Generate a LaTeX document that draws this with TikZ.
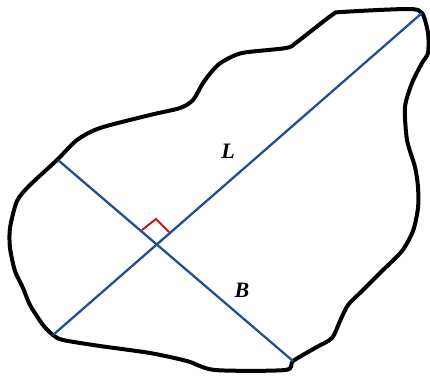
\documentclass[tikz,border=0pt]{standalone}
\usepackage{fontspec}
\setmainfont{Liberation Serif}
\begin{document}
\begin{tikzpicture}[x=1pt,y=-1pt,
  outline/.style={line width=4pt,black,line join=round,line cap=round},
  axisline/.style={line width=2.3pt,axisblue},
  rightmark/.style={line width=2pt,markred},
  lbl/.style={font=\fontsize{22}{24}\selectfont\bfseries\itshape,inner sep=0pt}]
\definecolor{axisblue}{RGB}{35,80,140}
\definecolor{markred}{RGB}{200,20,30}
\useasboundingbox (0,0) rectangle (430,376);
\draw[outline] plot[smooth cycle,tension=0.45] coordinates {
(30,185) (57,160) (77,140) (100,128) (150,115) (180,108) (193,100) (203,83)
(213,70) (222,62) (242,53) (286,48) (297,42) (332,15) (342,12) (408,9) (422,13)
(428,33) (428,53) (422,63) (412,83) (405,107) (407,140) (415,167) (418,187)
(418,208) (413,231) (402,251) (382,271) (362,291) (348,305) (340,321) (332,338)
(315,348) (293,361) (285,370) (215,370) (187,361) (150,353) (100,346) (63,340)
(53,335) (43,325) (30,305) (23,288) (15,271) (10,248) (10,228) (17,201)};
\coordinate (La) at (53,335);
\coordinate (Lb) at (422,13);
\coordinate (Ba) at (58,160);
\coordinate (Bb) at (293,361);
\draw[axisline] (La) -- (Lb);
\draw[axisline] (Ba) -- (Bb);
\coordinate (m1) at (142,230);
\coordinate (m2) at (156,219);
\coordinate (m3) at (169,232);
\draw[rightmark] (m1) -- (m2) -- (m3);
\node[lbl] (L) at (228,151) {L};
\node[lbl] (B) at (242,290) {B};
\end{tikzpicture}
\end{document}
